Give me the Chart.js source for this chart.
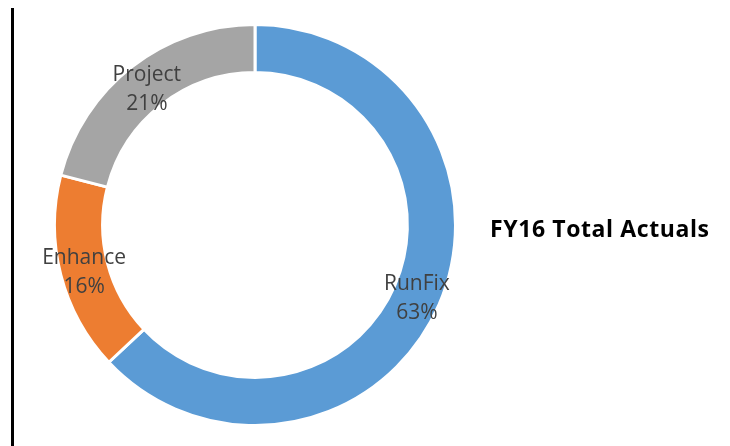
<!DOCTYPE html>
<html>
<head>
<meta charset="utf-8">
<script src="https://cdn.jsdelivr.net/npm/chart.js@4/dist/chart.umd.min.js"></script>
<style>
  html, body { margin: 0; padding: 0; background: #fff; }
  #wrap { position: relative; width: 730px; height: 446px; }
  #axisLine { position: absolute; left: 11px; top: 8px; width: 3px; height: 438px; background: #000; }
  #title { position: absolute; left: 490px; top: 212px; font-family: "Open Sans", sans-serif; font-weight: bold; font-size: 23px; letter-spacing: 0.6px; color: #000; white-space: nowrap; }
</style>
</head>
<body>
<div id="wrap">
  <canvas id="chart" width="730" height="446"></canvas>
  <div id="axisLine"></div>
  <div id="title">FY16 Total Actuals</div>
</div>
<script>
const categories = ["RunFix", "Enhance", "Project"];
const percents = [63, 16, 21];
const colors = ["#5B9BD5", "#ED7D31", "#A5A5A5"];

// labels drawn in the middle of each ring segment
const sliceLabels = {
  id: "sliceLabels",
  afterDatasetsDraw(chart) {
    const ctx = chart.ctx;
    const meta = chart.getDatasetMeta(0);
    ctx.save();
    ctx.font = "21px 'Open Sans', sans-serif";
    ctx.fillStyle = "#404040";
    ctx.textAlign = "center";
    ctx.textBaseline = "alphabetic";
    meta.data.forEach((arc, i) => {
      const p = arc.tooltipPosition();
      ctx.fillText(categories[i], p.x, p.y - 5);
      ctx.fillText(percents[i] + "%", p.x, p.y + 24);
    });
    ctx.restore();
  }
};

new Chart(document.getElementById("chart"), {
  type: "doughnut",
  data: {
    labels: categories,
    datasets: [{
      data: percents,
      backgroundColor: colors,
      borderColor: "#ffffff",
      borderWidth: 3
    }]
  },
  options: {
    responsive: false,
    animation: false,
    cutout: "76%",
    layout: { padding: { left: 53, right: 273, top: 23, bottom: 19 } },
    plugins: {
      legend: { display: false },
      tooltip: { enabled: false }
    }
  },
  plugins: [sliceLabels]
});
</script>
</body>
</html>
